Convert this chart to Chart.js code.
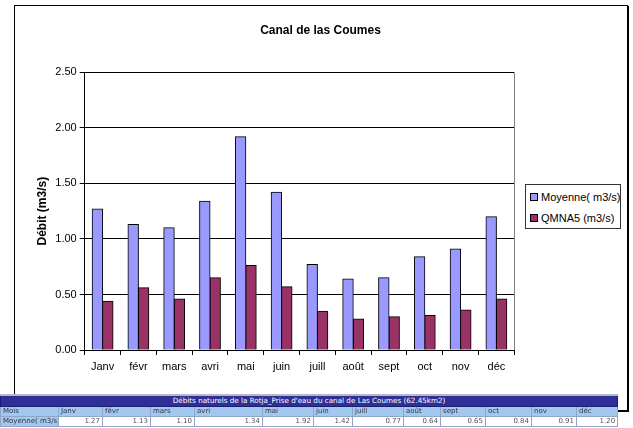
<!DOCTYPE html>
<html>
<head>
<meta charset="utf-8">
<script src="https://cdn.jsdelivr.net/npm/chart.js@4/dist/chart.umd.min.js"></script>
<style>
body { margin: 0; background: #fff; }
#wrap { position: relative; width: 633px; height: 428px; overflow: hidden; font-family: "Liberation Sans", Arial, sans-serif; }
#frame { position: absolute; left: 14px; top: 5px; width: 612px; height: 404px; border: 1px solid #000; box-shadow: 1px 1px 0 #000; }
#stockChart { position: absolute; left: 0; top: 0; }
#legend { position: absolute; left: 525px; top: 184px; width: 96px; height: 45px; border: 1px solid #333; font-size: 11px; padding-top: 2px; box-sizing: border-box; background: #fff; }
#legend div { height: 21px; line-height: 21px; white-space: nowrap; }
#legend span.sw { display: inline-block; width: 6px; height: 6px; border: 1px solid #000; margin: 0 3px 0 4px; vertical-align: 0; }
#tbl { position: absolute; left: 0; top: 394px; width: 617px; border-collapse: collapse; table-layout: fixed; font-family: "DejaVu Sans", Verdana, sans-serif; font-size: 7px; }
#tbl td { border: 1px solid #8fa6c8; padding: 0 2px; height: 9px; line-height: 9px; overflow: hidden; white-space: nowrap; }
#tbl tr.head td { background: #2f2f98; color: #fff; text-align: center; height: 10px; line-height: 10px; border-color: #1c1c70; border-top: 2px solid #b8b8c8; font-size: 7.2px; }
#tbl tr.mois td { background: #a3c8ef; color: #334; }
#tbl tr.vals td { background: #fff; color: #555; text-align: right; }
#tbl tr.vals td.lab { background: #a3c8ef; color: #334; text-align: left; }
</style>
</head>
<body>
<div id="wrap">
  <div id="frame"></div>
  <canvas id="stockChart" width="633" height="428"></canvas>
  <div id="legend"></div>
  <table id="tbl"></table>
</div>
<script>
const months = ['Janv', 'févr', 'mars', 'avri', 'mai', 'juin', 'juill', 'août', 'sept', 'oct', 'nov', 'déc'];
const moyenne = [1.27, 1.13, 1.10, 1.34, 1.92, 1.42, 0.77, 0.64, 0.65, 0.84, 0.91, 1.20];
const qmna5 = [0.44, 0.56, 0.46, 0.65, 0.76, 0.57, 0.35, 0.28, 0.30, 0.31, 0.36, 0.46];
const yTicks = [0, 0.5, 1, 1.5, 2, 2.5];
const tableTitle = "Débits naturels de la Rotja_Prise d'eau du canal de Las Coumes (62.45km2)";
const colWidths = [58, 44, 48, 44, 68, 51, 39, 51, 37, 45, 46, 45, 41];

const series = [
    { label: 'Moyenne( m3/s)', data: moyenne, color: '#9999ff' },
    { label: 'QMNA5 (m3/s)', data: qmna5, color: '#993366' }
];

// grey right edge of the plot area
const plotBorder = {
    id: 'plotBorder',
    beforeDatasetsDraw(c) {
        const a = c.chartArea;
        const ctx = c.ctx;
        ctx.save();
        ctx.strokeStyle = '#808080';
        ctx.lineWidth = 1;
        ctx.beginPath();
        ctx.moveTo(Math.round(a.right) + 0.5, a.top);
        ctx.lineTo(Math.round(a.right) + 0.5, a.bottom);
        ctx.stroke();
        ctx.restore();
    }
};

Chart.defaults.font.family = '"Liberation Sans", Arial, sans-serif';
Chart.defaults.color = '#000';

const chart = new Chart(document.getElementById('stockChart'), {
    type: 'bar',
    data: {
        labels: months,
        datasets: series.map(s => ({
            label: s.label,
            data: s.data,
            backgroundColor: s.color,
            borderColor: '#000',
            borderWidth: 1,
            inflateAmount: 0.5,
            categoryPercentage: 0.58,
            barPercentage: 1.0
        }))
    },
    options: {
        responsive: false,
        animation: false,
        devicePixelRatio: 1,
        layout: { padding: { left: 14, right: 6, top: 0, bottom: 0 } },
        plugins: {
            legend: { display: false },
            tooltip: { enabled: false },
            title: {
                display: true,
                text: 'Canal de las Coumes',
                font: { size: 12, weight: 'bold' },
                color: '#000',
                padding: { top: 23, bottom: 35 }
            }
        },
        scales: {
            x: {
                grid: { drawOnChartArea: false, drawTicks: true, tickLength: 5, color: '#000', offset: true },
                border: { display: true, color: '#000', width: 1 },
                ticks: { font: { size: 11 }, color: '#000', padding: 5, maxRotation: 0 },
                afterFit: s => { s.height = 78; }
            },
            y: {
                min: 0,
                max: 2.5,
                afterBuildTicks: s => { s.ticks = yTicks.map(v => ({ value: v })); },
                grid: { color: '#000', tickLength: 5, lineWidth: 1 },
                border: { display: true, color: '#000', width: 1 },
                ticks: { font: { size: 11 }, color: '#000', padding: 3, callback: v => Number(v).toFixed(2) },
                title: { display: true, text: 'Débit (m3/s)', font: { size: 12, weight: 'bold' }, color: '#000', padding: { top: 21, bottom: 0 } },
                afterFit: s => { s.width = 70.7; }
            },
            yR: {
                position: 'right',
                display: true,
                min: 0,
                max: 2.5,
                grid: { display: false },
                border: { display: false },
                ticks: { display: false },
                afterFit: s => { s.width = 112.7; }
            }
        }
    },
    plugins: [plotBorder]
});

// legend
const legend = document.getElementById('legend');
series.forEach(s => {
    const d = document.createElement('div');
    d.innerHTML = '<span class="sw" style="background:' + s.color + '"></span>' + s.label;
    legend.appendChild(d);
});

// table under the chart
const tbl = document.getElementById('tbl');
const cg = document.createElement('colgroup');
colWidths.forEach(w => {
    const c = document.createElement('col');
    c.style.width = w + 'px';
    cg.appendChild(c);
});
tbl.appendChild(cg);
let tr = document.createElement('tr');
tr.className = 'head';
tr.innerHTML = '<td colspan="13">' + tableTitle + '</td>';
tbl.appendChild(tr);
tr = document.createElement('tr');
tr.className = 'mois';
tr.innerHTML = '<td>Mois</td>' + months.map(m => '<td>' + m + '</td>').join('');
tbl.appendChild(tr);
tr = document.createElement('tr');
tr.className = 'vals';
tr.innerHTML = '<td class="lab">Moyenne( m3/s)</td>' + moyenne.map(v => '<td>' + v.toFixed(2) + '</td>').join('');
tbl.appendChild(tr);
</script>
</body>
</html>
